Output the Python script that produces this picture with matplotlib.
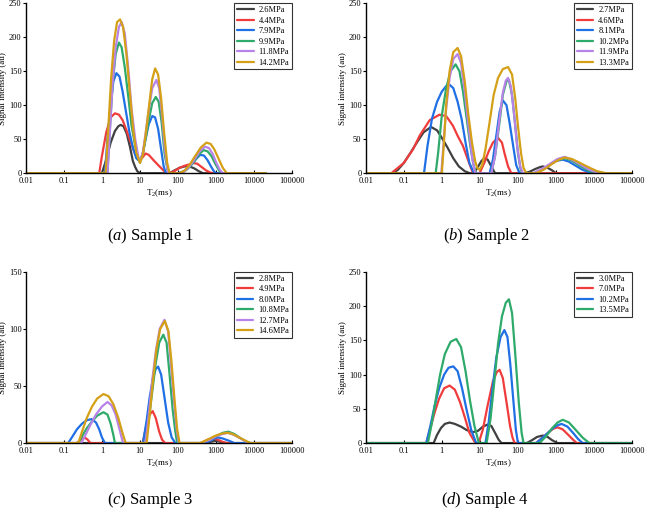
import numpy as np
from matplotlib import pyplot as plt
from matplotlib.ticker import FixedLocator, FixedFormatter

plt.rcParams['font.family'] = ['Liberation Serif', 'DejaVu Serif']
plt.rcParams['mathtext.fontset'] = 'custom'
plt.rcParams['mathtext.rm'] = 'Liberation Serif'
plt.rcParams['mathtext.it'] = 'Liberation Serif:italic'

colors = ['#404040', '#f03c3c', '#1f6fe5', '#2eaa6a', '#b783e8', '#d4a017']

xtick_vals = [0.01, 0.1, 1, 10, 100, 1000, 10000, 100000]
xtick_labels = ['0.01', '0.1', '1', '10', '100', '1000', '10000', '100000']

# ---------------- Sample 1 ----------------
a_labels = ['2.6MPa', '4.4MPa', '7.9MPa', '9.9MPa', '11.8MPa', '14.2MPa']
a_t2_1 = [0.01, 1.0, 1.3, 1.7, 2.2, 2.7, 3.1, 3.7, 4.5, 5.5, 6.5, 7.5, 8.5, 10, 60, 80, 110, 150, 200, 270, 350, 450, 20000]
a_amp_1 = [0, 0, 20, 45, 62, 69, 71, 69, 58, 38, 18, 9, 3, 0, 0, 4, 8, 10, 10, 7, 3, 0, 0]
a_t2_2 = [0.01, 0.85, 1.0, 1.3, 1.7, 2.2, 2.8, 3.5, 4.5, 5.5, 7, 8.5, 10, 12, 14, 17, 22, 30, 40, 50, 60, 80, 110, 150, 200, 250, 320, 420, 550, 700, 850, 20000]
a_amp_2 = [0, 0, 25, 60, 82, 88, 86, 78, 62, 48, 32, 22, 19, 24, 29, 27, 20, 12, 5, 0, 0, 3, 8, 11, 13, 15, 14, 9, 4, 1, 0, 0]
a_t2_3 = [0.01, 1.2, 1.4, 1.7, 2.0, 2.4, 2.9, 3.5, 4.3, 5.3, 6.5, 8, 10, 12, 14, 17, 21, 25, 30, 36, 42, 48, 100, 130, 170, 220, 290, 380, 480, 600, 750, 900, 1000, 20000]
a_amp_3 = [0, 0, 50, 100, 135, 147, 142, 120, 90, 60, 38, 22, 17, 30, 50, 72, 84, 82, 65, 35, 10, 0, 0, 2, 6, 12, 20, 27, 26, 19, 9, 2, 0, 0]
a_t2_4 = [0.01, 1.4, 1.6, 1.9, 2.3, 2.8, 3.3, 4.0, 5, 6, 7.5, 9, 10, 12, 14, 17, 21, 26, 31, 37, 44, 55, 110, 150, 200, 270, 360, 470, 600, 760, 950, 1200, 1400, 20000]
a_amp_4 = [0, 0, 60, 130, 175, 192, 185, 155, 110, 70, 40, 22, 16, 30, 50, 78, 103, 112, 105, 75, 30, 0, 0, 3, 9, 18, 28, 34, 32, 25, 14, 4, 0, 0]
a_t2_5 = [0.01, 1.4, 1.6, 1.9, 2.3, 2.8, 3.3, 4.0, 5, 6, 7.5, 9, 10, 12, 14, 17, 21, 27, 32, 38, 45, 55, 110, 150, 200, 270, 370, 510, 650, 820, 1000, 1250, 1500, 20000]
a_amp_5 = [0, 0, 55, 130, 185, 215, 222, 205, 150, 95, 50, 25, 16, 32, 58, 92, 125, 137, 125, 85, 35, 0, 0, 3, 10, 20, 32, 39, 37, 28, 16, 5, 0, 0]
a_t2_6 = [0.01, 1.25, 1.45, 1.75, 2.1, 2.5, 3.0, 3.6, 4.4, 5.4, 6.6, 8, 10, 12, 14, 17, 21, 25, 30, 36, 43, 52, 60, 110, 150, 200, 280, 400, 560, 720, 900, 1150, 1500, 1900, 20000]
a_amp_6 = [0, 0, 60, 140, 195, 222, 226, 215, 175, 120, 65, 30, 15, 28, 55, 95, 138, 154, 145, 110, 60, 15, 0, 0, 4, 12, 25, 38, 45, 43, 35, 22, 8, 0, 0]

# ---------------- Sample 2 ----------------
b_labels = ['2.7MPa', '4.6MPa', '8.1MPa', '10.2MPa', '11.9MPa', '13.3MPa']
b_t2_1 = [0.01, 0.05, 0.07, 0.1, 0.15, 0.22, 0.33, 0.52, 0.75, 1.0, 1.4, 2.0, 2.8, 4.0, 5.4, 7, 9, 11, 13, 16, 20, 25, 150, 200, 280, 380, 450, 600, 800, 1000, 100000]
b_amp_1 = [0, 0, 5, 15, 30, 45, 60, 68, 63, 52, 38, 22, 10, 3, 0, 0, 10, 18, 22, 20, 10, 0, 0, 2, 6, 9, 10, 8, 4, 0, 0]
b_t2_2 = [0.01, 0.047, 0.1, 0.175, 0.26, 0.48, 0.87, 1.3, 1.95, 2.6, 3.6, 4.3, 5.3, 6.6, 9.8, 13, 17, 22, 30, 38, 45, 55, 67, 100000]
b_amp_2 = [0, 0, 15, 35, 55, 78, 86, 84, 70, 55, 40, 28, 14, 0, 0, 15, 32, 45, 52, 45, 28, 10, 0, 0]
b_t2_3 = [0.01, 0.34, 0.42, 0.55, 0.75, 1.0, 1.3, 1.6, 2.0, 2.6, 3.3, 4.2, 5.3, 7, 18, 22, 27, 33, 40, 50, 60, 75, 90, 110, 300, 450, 700, 1000, 1500, 2200, 3300, 5000, 9000, 100000]
b_amp_3 = [0, 0, 40, 80, 105, 120, 128, 130, 125, 105, 80, 45, 15, 0, 0, 20, 55, 90, 107, 100, 75, 40, 12, 0, 0, 6, 13, 18, 20, 17, 11, 5, 0, 0]
b_t2_4 = [0.01, 0.69, 0.8, 1.0, 1.3, 1.7, 2.3, 2.9, 3.6, 4.5, 5.6, 6.8, 8, 20, 25, 32, 40, 50, 58, 70, 85, 100, 115, 130, 300, 500, 800, 1200, 1800, 2700, 4000, 6500, 11000, 100000]
b_amp_4 = [0, 0, 30, 85, 125, 150, 160, 150, 120, 80, 40, 12, 0, 0, 25, 70, 115, 135, 137, 115, 70, 30, 8, 0, 0, 7, 15, 20, 22, 18, 12, 5, 0, 0]
b_t2_5 = [0.01, 0.97, 1.1, 1.3, 1.6, 2.0, 2.6, 3.2, 4.0, 5.0, 6.2, 7.5, 20, 25, 32, 40, 48, 55, 65, 80, 95, 115, 135, 250, 450, 750, 1100, 1700, 2600, 4000, 7000, 13000, 100000]
b_amp_5 = [0, 0, 40, 95, 140, 168, 175, 162, 120, 70, 25, 0, 0, 25, 75, 118, 136, 140, 128, 85, 40, 10, 0, 0, 7, 15, 21, 24, 20, 14, 6, 0, 0]
b_t2_6 = [0.01, 1.0, 1.12, 1.3, 1.6, 2.0, 2.6, 3.2, 4.0, 5.0, 6.2, 7.5, 8.5, 9.8, 11.5, 14, 18, 23, 30, 40, 55, 70, 85, 100, 120, 140, 165, 300, 500, 800, 1200, 1700, 2600, 4000, 7000, 12000, 21000, 100000]
b_amp_6 = [0, 0, 40, 100, 150, 178, 184, 172, 135, 85, 45, 18, 8, 5, 12, 35, 75, 115, 140, 153, 156, 145, 110, 70, 30, 8, 0, 0, 6, 14, 20, 23, 21, 16, 9, 3, 0, 0]

# ---------------- Sample 3 ----------------
c_labels = ['2.8MPa', '4.9MPa', '8.0MPa', '10.8MPa', '12.7MPa', '14.6MPa']
c_t2_1 = [0.01, 600, 800, 1000, 1300, 1600, 100000]
c_amp_1 = [0, 0, 1.5, 2, 1, 0, 0]
c_t2_2 = [0.01, 0.22, 0.28, 0.35, 0.42, 0.5, 11.8, 14, 17, 21.6, 26, 32, 38, 46, 400, 600, 850, 1100, 1500, 2000, 100000]
c_amp_2 = [0, 0, 3, 5, 3, 0, 0, 12, 24, 28, 22, 10, 3, 0, 0, 3, 4, 3, 1, 0, 0]
c_t2_3 = [0.01, 0.13, 0.17, 0.22, 0.3, 0.4, 0.54, 0.7, 0.85, 1.0, 1.2, 12, 15, 18, 22, 26, 30, 36, 45, 55, 68, 85, 500, 700, 900, 1100, 1500, 2200, 3000, 100000]
c_amp_3 = [0, 0, 6, 12, 17, 20, 21, 18, 12, 5, 0, 0, 20, 40, 57, 65, 67, 60, 38, 18, 5, 0, 0, 2, 4, 5, 4, 2, 0, 0]
c_t2_4 = [0.01, 0.24, 0.3, 0.4, 0.55, 0.75, 1.1, 1.4, 1.7, 2.0, 2.2, 14, 17, 21, 26, 32, 41, 50, 60, 72, 85, 95, 400, 700, 1000, 1500, 2100, 3000, 4500, 6500, 8000, 100000]
c_amp_4 = [0, 0, 6, 13, 19, 24, 27, 25, 17, 7, 0, 0, 20, 45, 70, 88, 95, 88, 60, 30, 10, 0, 0, 3, 6, 9, 10, 8, 4, 1, 0, 0]
c_t2_5 = [0.01, 0.29, 0.38, 0.5, 0.7, 1.0, 1.4, 1.8, 2.3, 2.9, 3.6, 14, 17, 21, 26, 33, 44, 55, 65, 78, 92, 105, 400, 700, 1000, 1500, 2100, 3000, 4500, 7000, 100000]
c_amp_5 = [0, 0, 8, 16, 25, 32, 36, 33, 25, 12, 0, 0, 25, 55, 80, 100, 108, 98, 70, 38, 12, 0, 0, 3, 6, 8, 9, 7, 4, 0, 0]
c_t2_6 = [0.01, 0.24, 0.3, 0.4, 0.55, 0.75, 1.1, 1.5, 2.0, 2.7, 3.4, 4.2, 15, 18, 22, 27, 34, 45, 56, 67, 80, 95, 110, 380, 600, 900, 1300, 1900, 2700, 4000, 6000, 8000, 100000]
c_amp_6 = [0, 0, 10, 22, 32, 39, 43, 41, 34, 22, 10, 0, 0, 25, 55, 82, 100, 107, 98, 72, 40, 12, 0, 0, 3, 6, 8, 9, 8, 5, 2, 0, 0]

# ---------------- Sample 4 ----------------
d_labels = ['3.0MPa', '7.0MPa', '10.2MPa', '13.5MPa']
d_t2_1 = [0.01, 0.61, 0.75, 0.95, 1.2, 1.6, 2.2, 3.2, 4.5, 6.6, 9, 12, 16, 20, 25, 31, 37, 170, 230, 320, 450, 600, 800, 1100, 100000]
d_amp_1 = [0, 0, 12, 22, 28, 30, 28, 24, 19, 16, 18, 24, 27, 25, 15, 5, 0, 0, 4, 9, 11, 9, 4, 0, 0]
d_t2_2 = [0.01, 0.39, 0.5, 0.65, 0.85, 1.15, 1.6, 2.2, 3.0, 4.0, 5.3, 7.6, 9.3, 12, 16, 22, 28, 33, 40, 50, 62, 72, 82, 300, 450, 650, 850, 1100, 1500, 2100, 2800, 3500, 100000]
d_amp_2 = [0, 0, 22, 45, 65, 80, 84, 78, 60, 38, 15, 0, 0, 20, 55, 90, 104, 107, 95, 60, 25, 8, 0, 0, 8, 16, 21, 23, 20, 12, 5, 0, 0]
d_t2_3 = [0.01, 0.39, 0.5, 0.65, 0.85, 1.15, 1.5, 2.0, 2.6, 3.4, 4.5, 6.0, 8.0, 14, 17, 21, 27, 35, 44, 53, 63, 75, 88, 100, 300, 450, 700, 1000, 1400, 2000, 2800, 3800, 5000, 100000]
d_amp_3 = [0, 0, 25, 55, 80, 100, 110, 112, 105, 80, 48, 18, 0, 0, 30, 75, 125, 155, 165, 155, 115, 65, 20, 0, 0, 8, 18, 25, 28, 24, 15, 6, 0, 0]
d_t2_4 = [0.01, 0.43, 0.55, 0.7, 0.9, 1.2, 1.7, 2.4, 3.2, 4.2, 5.5, 7.2, 9.4, 15, 19, 24, 30, 38, 48, 58, 70, 85, 105, 125, 140, 370, 550, 800, 1100, 1500, 2200, 3200, 5000, 7500, 100000]
d_amp_4 = [0, 0, 30, 65, 100, 130, 148, 152, 140, 105, 62, 25, 0, 0, 35, 90, 145, 185, 205, 210, 190, 130, 60, 15, 0, 0, 10, 22, 30, 34, 30, 20, 8, 0, 0]

panels = [
    ('a', 'Sample 1', a_labels, [(a_t2_1, a_amp_1), (a_t2_2, a_amp_2), (a_t2_3, a_amp_3),
                                 (a_t2_4, a_amp_4), (a_t2_5, a_amp_5), (a_t2_6, a_amp_6)], 250),
    ('b', 'Sample 2', b_labels, [(b_t2_1, b_amp_1), (b_t2_2, b_amp_2), (b_t2_3, b_amp_3),
                                 (b_t2_4, b_amp_4), (b_t2_5, b_amp_5), (b_t2_6, b_amp_6)], 250),
    ('c', 'Sample 3', c_labels, [(c_t2_1, c_amp_1), (c_t2_2, c_amp_2), (c_t2_3, c_amp_3),
                                 (c_t2_4, c_amp_4), (c_t2_5, c_amp_5), (c_t2_6, c_amp_6)], 150),
    ('d', 'Sample 4', d_labels, [(d_t2_1, d_amp_1), (d_t2_2, d_amp_2), (d_t2_3, d_amp_3),
                                 (d_t2_4, d_amp_4)], 250),
]

# axes boxes [left, bottom, width, height] and caption centres
boxes = [[0.040, 0.663, 0.413, 0.331], [0.567, 0.663, 0.413, 0.331],
         [0.040, 0.138, 0.413, 0.333], [0.567, 0.138, 0.413, 0.333]]
captions = [(0.233, 0.541), (0.754, 0.541), (0.233, 0.027), (0.752, 0.027)]

fig = plt.figure(figsize=(6.45, 5.14), dpi=100)

for i, (letter, name, labels, curves, ymax) in enumerate(panels):
    ax = fig.add_axes(boxes[i])
    for j, (t2, amp) in enumerate(curves):
        ax.plot(t2, amp, color=colors[j], lw=1.6, label=labels[j],
                solid_joinstyle='round', solid_capstyle='round')
    ax.set_xscale('log')
    ax.set_xlim(0.01, 100000)
    ax.set_ylim(0, ymax)
    ax.set_yticks(np.arange(0, ymax + 1, 50))
    ax.xaxis.set_major_locator(FixedLocator(xtick_vals))
    ax.xaxis.set_major_formatter(FixedFormatter(xtick_labels))
    ax.xaxis.set_minor_locator(FixedLocator([]))
    ax.tick_params(axis='x', direction='in', length=2.5, width=0.8, labelsize=6, pad=2.5)
    ax.tick_params(axis='y', direction='out', length=2, width=0.8, labelsize=6, pad=1)
    for s in ['top', 'right']:
        ax.spines[s].set_visible(False)
    for s in ['left', 'bottom']:
        ax.spines[s].set_linewidth(1.0)
    ax.set_xlabel('T$_2$(ms)', fontsize=6.5, labelpad=2)
    ax.set_ylabel('Signal intensity (au)', fontsize=6.5, labelpad=1)
    leg = ax.legend(loc='upper right', bbox_to_anchor=(1.0, 1.0), borderaxespad=0,
                    fontsize=6, frameon=True, fancybox=False, handlelength=2.0,
                    labelspacing=0.3, borderpad=0.35, handletextpad=0.6)
    leg.get_frame().set_edgecolor('black')
    leg.get_frame().set_linewidth(0.8)
    fig.text(captions[i][0], captions[i][1], r'($\mathit{%s}$) %s' % (letter, name),
             fontsize=12, ha='center', va='center')

plt.savefig('out.png', dpi=100)
